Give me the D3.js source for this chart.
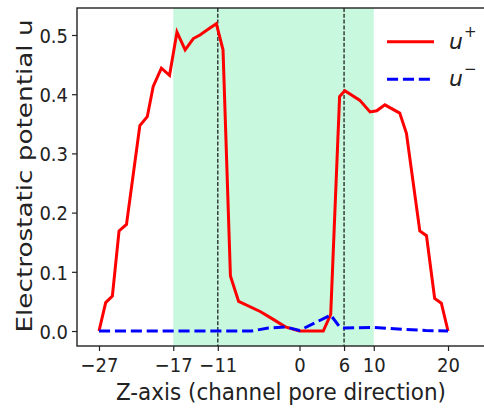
<!DOCTYPE html>
<html>
<head>
<meta charset="utf-8">
<script src="https://cdn.jsdelivr.net/npm/d3@7"></script>
<style>
  html, body { margin: 0; padding: 0; background: #ffffff; }
  svg { display: block; }
  text { font-family: "DejaVu Sans", sans-serif; fill: #222; }
</style>
</head>
<body>
<svg id="chart" width="484" height="409"></svg>
<script>
// ---- data ----
const xTicks = [-27, -17, -11, 0, 6, 10, 20];
const yTicks = [0, 0.1, 0.2, 0.3, 0.4, 0.5];
const poreRange = [-17, 10];
const markerLines = [-11, 6];

const uPlusZ = [-27, -26.1, -25.2, -24.3, -23.3, -21.5, -20.5, -19.7, -18.6, -17.5,
                -16.5, -15.4, -14.3, -13.4, -12.5, -11.2, -10.3, -9.3, -8.2, -5.3,
                -3.7, -1.9, 0, 3.2, 4.2, 5.4, 6.1, 8.1, 9.5, 10.4,
                11.5, 13.5, 14.4, 16.2, 17.1, 18.2, 19.1, 20];
const uPlusV = [0.0, 0.048, 0.059, 0.169, 0.180, 0.347, 0.362, 0.413, 0.444, 0.432,
                0.505, 0.475, 0.494, 0.500, 0.508, 0.519, 0.475, 0.093, 0.050, 0.033,
                0.021, 0.007, 0.0, 0.0, 0.028, 0.396, 0.406, 0.390, 0.370, 0.372,
                0.382, 0.368, 0.334, 0.169, 0.161, 0.055, 0.047, 0.0];

const uMinusZ = [-27, -6.5, -4.2, -1.9, 0, 4.2, 5.4, 6.1, 10, 14, 17, 20];
const uMinusV = [0.0, 0.0, 0.005, 0.007, 0.001, 0.027, 0.007, 0.005, 0.006, 0.003, 0.001, 0.0];

const seriesLabels = ["u", "u"];
const seriesSup = ["+", "\u2212"];
const xLabel = "Z-axis (channel pore direction)";
const yLabel = "Electrostatic potential u";

// ---- layout ----
const mLeft = 77, mRight = 485, mTop = 8, mBottom = 346;
const svg = d3.select("#chart");

const x = d3.scaleLinear().domain([-29.963, 24.98]).range([mLeft, mRight]);
const y = d3.scaleLinear().domain([-0.0253, 0.5456]).range([mBottom, mTop]);

// pore band
svg.append("rect")
  .attr("x", x(poreRange[0]))
  .attr("y", mTop)
  .attr("width", x(poreRange[1]) - x(poreRange[0]))
  .attr("height", mBottom - mTop)
  .attr("fill", "#c8f8de");

// vertical dashed marker lines
svg.selectAll("line.marker").data(markerLines).enter().append("line")
  .attr("class", "marker")
  .attr("x1", d => x(d)).attr("x2", d => x(d))
  .attr("y1", mTop).attr("y2", mBottom)
  .attr("stroke", "#111").attr("stroke-width", 1.2)
  .attr("stroke-dasharray", "4,1.8");

// lines
const line = d3.line().x(d => x(d[0])).y(d => y(d[1]));
const plusData = uPlusZ.map((z, i) => [z, uPlusV[i]]);
const minusData = uMinusZ.map((z, i) => [z, uMinusV[i]]);

svg.append("path").datum(plusData)
  .attr("d", line).attr("fill", "none")
  .attr("stroke", "#ff0000").attr("stroke-width", 3)
  .attr("stroke-linejoin", "miter").attr("stroke-linecap", "butt");

svg.append("path").datum(minusData)
  .attr("d", line).attr("fill", "none")
  .attr("stroke", "#0000ff").attr("stroke-width", 3)
  .attr("stroke-dasharray", "11.1,4.8");

// axes
const xAxis = svg.append("g").attr("transform", `translate(0,${mBottom})`)
  .call(d3.axisBottom(x).tickValues(xTicks).tickFormat(d3.format("d")).tickSize(5).tickSizeOuter(0));
const yAxis = svg.append("g").attr("transform", `translate(${mLeft},0)`)
  .call(d3.axisLeft(y).tickValues(yTicks).tickFormat(d3.format(".1f")).tickSize(5).tickSizeOuter(0));

[xAxis, yAxis].forEach(g => {
  g.select(".domain").remove();
  g.selectAll(".tick line").attr("stroke", "#222").attr("stroke-width", 1.2);
  g.selectAll(".tick text").attr("fill", "#222")
    .style("font-family", "DejaVu Sans").style("font-size", "18px");
});
xAxis.selectAll(".tick text")
  .attr("y", null).attr("dy", null)
  .attr("text-anchor", "middle")
  .attr("transform", "translate(0,25.5) scale(1,1.12)");
yAxis.selectAll(".tick text")
  .attr("x", null).attr("dy", null)
  .attr("text-anchor", "end")
  .attr("transform", "translate(-9,7.2) scale(1,1.12)");

// spines
const spine = svg.append("g").attr("stroke", "#222").attr("stroke-width", 1.4).attr("fill", "none");
spine.append("rect").attr("x", mLeft).attr("y", mTop).attr("width", mRight - mLeft).attr("height", mBottom - mTop);

// axis labels
svg.append("text")
  .attr("text-anchor", "middle")
  .attr("transform", `translate(${(mLeft + mRight) / 2},400) scale(1,1.06)`)
  .style("font-size", "21.5px")
  .text(xLabel);

svg.append("text")
  .attr("text-anchor", "middle")
  .attr("transform", `translate(32,176) rotate(-90) scale(1.25,1)`)
  .style("font-size", "21px")
  .text(yLabel);

// legend
const legendItems = [
  { color: "#ff0000", dash: null, yy: 41.7, base: 49, label: seriesLabels[0], sup: seriesSup[0] },
  { color: "#0000ff", dash: "11.1,4.8", yy: 79.3, base: 86, label: seriesLabels[1], sup: seriesSup[1] }
];
const lg = svg.append("g");
legendItems.forEach(it => {
  lg.append("line")
    .attr("x1", 387).attr("x2", 434)
    .attr("y1", it.yy).attr("y2", it.yy)
    .attr("stroke", it.color).attr("stroke-width", 3)
    .attr("stroke-dasharray", it.dash);
  const t = lg.append("text").attr("x", 449).attr("y", it.base)
    .style("font-size", "22px");
  t.append("tspan").style("font-style", "italic").text(it.label);
  t.append("tspan").attr("dy", -12).attr("dx", 1).style("font-size", "15px").text(it.sup);
});
</script>
</body>
</html>
